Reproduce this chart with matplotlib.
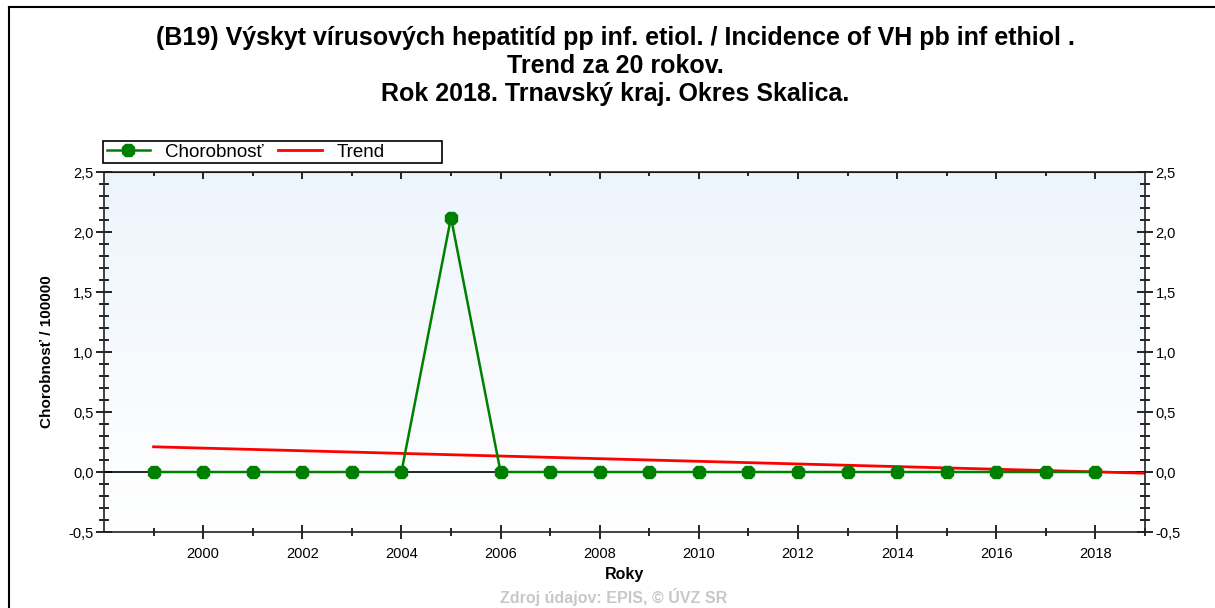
import matplotlib
matplotlib.use('Agg')
import matplotlib.pyplot as plt
import numpy as np
from matplotlib.ticker import MultipleLocator, FixedLocator, FuncFormatter
from matplotlib.lines import Line2D
from matplotlib.patches import Rectangle

plt.rcParams['font.family'] = ['Liberation Sans', 'DejaVu Sans']

# Data
years = [1999, 2000, 2001, 2002, 2003, 2004, 2005, 2006, 2007, 2008,
         2009, 2010, 2011, 2012, 2013, 2014, 2015, 2016, 2017, 2018]
incidence = [0, 0, 0, 0, 0, 0, 2.12, 0, 0, 0,
             0, 0, 0, 0, 0, 0, 0, 0, 0, 0]
trend_years = [1999, 2019]
trend_values = [0.21, -0.01]
labeled_years = [2000, 2002, 2004, 2006, 2008, 2010, 2012, 2014, 2016, 2018]

title_lines = ['(B19) Výskyt vírusových hepatitíd pp inf. etiol. / Incidence of VH pb inf ethiol .',
               'Trend za 20 rokov.',
               'Rok 2018. Trnavský kraj. Okres Skalica.']

W, H = 1215, 608
fig = plt.figure(figsize=(W / 100, H / 100), dpi=100)
ax = fig.add_axes([104 / W, 1 - 532 / H, (1145 - 104) / W, (532 - 172) / H])

# light blue gradient background of the plot area
grad = np.linspace(1, 0, 256).reshape(-1, 1)
top_col = np.array([0.93, 0.96, 0.99])
img = top_col * grad[..., None] + np.array([1, 1, 1]) * (1 - grad[..., None])
ax.imshow(img, extent=[1998, 2019, -0.5, 2.5], aspect='auto', zorder=0, origin='upper')

ax.axhline(0, color='black', lw=1.2, zorder=1)
ax.plot(trend_years, trend_values, color='#ff0000', lw=2, zorder=2, label='Trend')
ax.plot(years, incidence, color='#008000', lw=1.8, marker='8', markersize=9.5,
        zorder=3, label='Chorobnosť')

ax.set_xlim(1998, 2019)
ax.set_ylim(-0.5, 2.5)

ax.xaxis.set_major_locator(FixedLocator(labeled_years))
ax.xaxis.set_minor_locator(FixedLocator(years[::2] + [2019]))
ax.yaxis.set_major_locator(MultipleLocator(0.5))
ax.yaxis.set_minor_locator(MultipleLocator(0.1))
ax.yaxis.set_major_formatter(FuncFormatter(lambda v, p: f'{v:.1f}'.replace('.', ',')))
ax.xaxis.set_major_formatter(FuncFormatter(lambda v, p: f'{int(v)}'))

ax.tick_params(axis='y', which='major', direction='inout', length=11, width=1.2,
               left=True, right=True, labelleft=True, labelright=True, labelsize=10.5, pad=2)
ax.tick_params(axis='y', which='minor', direction='inout', length=7, width=1.2,
               left=True, right=True)
ax.tick_params(axis='x', which='major', direction='inout', length=10, width=1.2,
               top=False, labelsize=10.5, pad=6)
ax.tick_params(axis='x', which='minor', direction='inout', length=6, width=1.2, top=False)

top = ax.secondary_xaxis('top')
top.xaxis.set_major_locator(FixedLocator(labeled_years))
top.xaxis.set_minor_locator(FixedLocator(years[::2]))
top.tick_params(which='major', direction='in', length=5, width=1.2, labeltop=False)
top.tick_params(which='minor', direction='in', length=3, width=1.2)

for s in ax.spines.values():
    s.set_linewidth(1.2)
    s.set_color('#222222')

ax.set_xlabel('Roky', fontsize=11.5, fontweight='bold', labelpad=4)
ax.set_ylabel('Chorobnosť / 100000', fontsize=11, fontweight='bold', labelpad=10)

# legend above the plot area, box drawn separately
handles, labels = ax.get_legend_handles_labels()
fig.patches.append(Rectangle((103 / W, 1 - 163 / H), 339 / W, 22 / H,
                             transform=fig.transFigure, fill=False,
                             edgecolor='black', lw=1.2))
leg = fig.legend(handles[::-1], labels[::-1], ncol=2, loc='center left',
                 bbox_to_anchor=(103 / W, 1 - 152 / H), borderaxespad=0,
                 frameon=False, fontsize=13.5, handlelength=2.3,
                 handletextpad=0.8, columnspacing=0.8, borderpad=0.2)

# title
for i, line in enumerate(title_lines):
    fig.text(615 / W, 1 - (38 + 28 * i) / H, line, ha='center', va='center',
             fontsize=18, fontweight='bold')

fig.text(614 / W, 1 - 597 / H, 'Zdroj údajov: EPIS, © ÚVZ SR', ha='center', va='center',
         fontsize=11.5, fontweight='bold', color='#c8c8c8')

# outer frame
fig.add_artist(Line2D([9 / W, 9 / W], [0, 1 - 7 / H], color='black', lw=1.5))
fig.add_artist(Line2D([9 / W, 1], [1 - 7 / H, 1 - 7 / H], color='black', lw=1.5))

fig.savefig('out.png', dpi=100)
